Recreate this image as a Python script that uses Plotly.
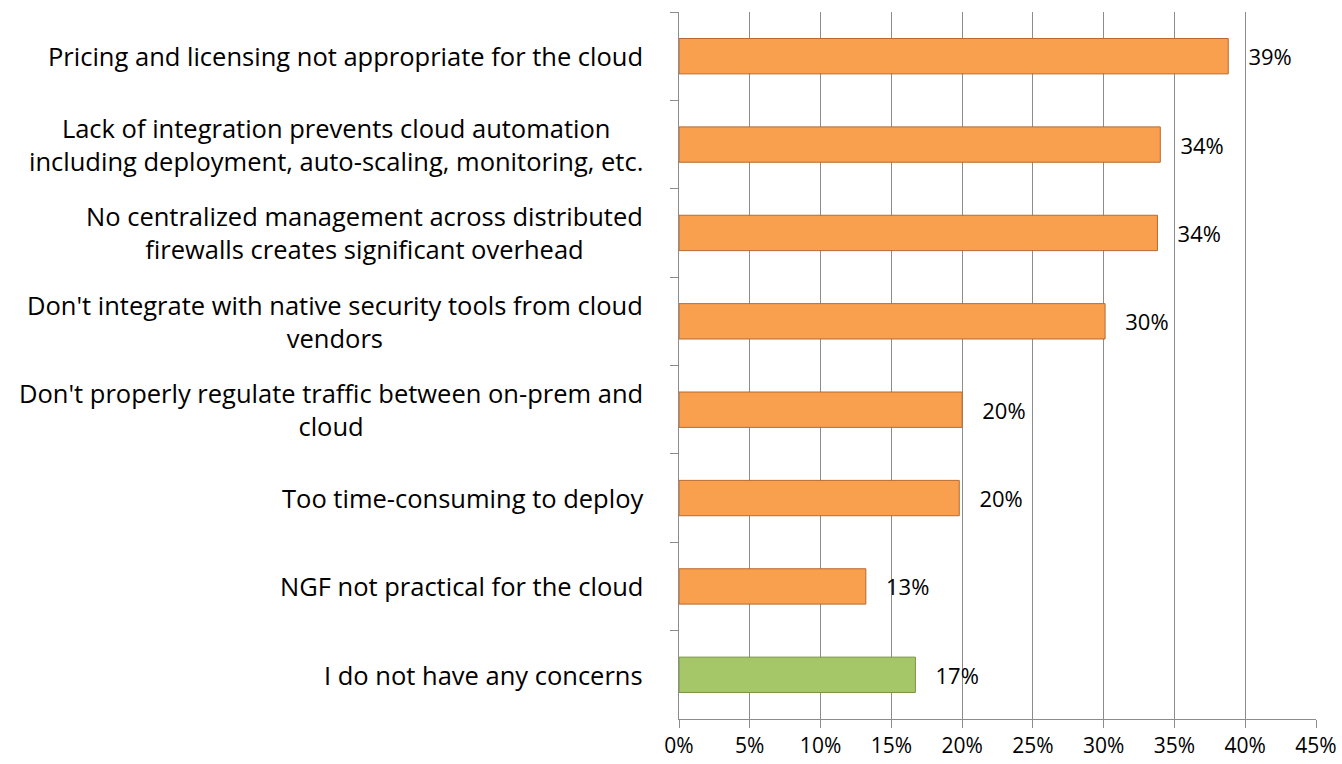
import plotly.graph_objects as go

categories = [
    "Pricing and licensing not appropriate for the cloud",
    "Lack of integration prevents cloud automation<br>including deployment, auto-scaling, monitoring, etc.",
    "No centralized management across distributed<br>firewalls creates significant overhead",
    "Don't integrate with native security tools from cloud<br>vendors",
    "Don't properly regulate traffic between on-prem and<br>cloud",
    "Too time-consuming to deploy",
    "NGF not practical for the cloud",
    "I do not have any concerns",
]
values = [0.388, 0.340, 0.338, 0.301, 0.200, 0.198, 0.132, 0.167]
fill_colors = ["#F9A04F"] * 7 + ["#A6C768"]
line_colors = ["#B8692F"] * 7 + ["#7A9442"]
x_ticks = [0, 0.05, 0.10, 0.15, 0.20, 0.25, 0.30, 0.35, 0.40, 0.45]

FONT = "Open Sans, sans-serif"

fig = go.Figure()
fig.add_trace(go.Bar(
    y=categories,
    x=values,
    orientation="h",
    marker=dict(color=fill_colors, line=dict(color=line_colors, width=1)),
    text=[f"\u00a0\u00a0\u00a0{round(v*100):.0f}%" for v in values],
    textposition="outside",
    textfont=dict(family=FONT, size=22, color="black"),
    cliponaxis=False,
    width=0.4,
    hoverinfo="skip",
))

for cat in categories:
    fig.add_annotation(
        x=0, xref="paper", y=cat, yref="y",
        text=cat, showarrow=False,
        xanchor="right", yanchor="middle", align="center",
        xshift=-34,
        font=dict(family=FONT, size=25.5, color="black"),
    )

fig.update_layout(
    width=1342, height=764,
    margin=dict(l=679, r=26, t=12, b=45),
    plot_bgcolor="white", paper_bgcolor="white",
    showlegend=False,
    font=dict(family=FONT, size=21, color="black"),
)
fig.update_xaxes(
    range=[0, 0.45], tickvals=x_ticks, tickformat=".0%",
    showgrid=True, gridcolor="#8C8C8C", gridwidth=1,
    showline=True, linecolor="#8C8C8C", linewidth=1,
    ticks="outside", ticklen=8, tickcolor="#8C8C8C",
    zeroline=False, automargin=False,
    tickfont=dict(family=FONT, size=21, color="black"),
)
fig.update_yaxes(
    autorange="reversed", showticklabels=False,
    showline=True, linecolor="#8C8C8C", linewidth=1,
    ticks="outside", ticklen=8, tickcolor="#8C8C8C",
    tickson="boundaries", showgrid=False,
)

fig.write_html(
    "out.html",
    config={"displayModeBar": False},
    post_script="document.body.style.margin='0';",
)
